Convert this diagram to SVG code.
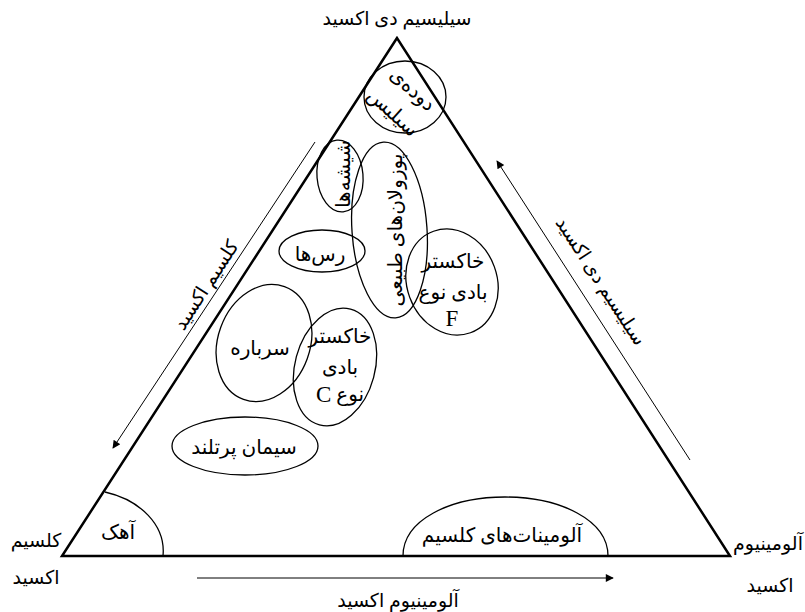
<svg xmlns="http://www.w3.org/2000/svg" width="805" height="612" viewBox="0 0 805 612">
<style>
text{font-family:"Liberation Serif","DejaVu Sans",serif;font-size:19px;fill:#000;text-anchor:middle;dominant-baseline:central;direction:rtl}
.in{font-size:20px}
.lat{font-size:23px}
.shape{fill:none;stroke:#000;stroke-width:1.3}
.tri{fill:none;stroke:#000;stroke-width:2.5;stroke-linejoin:miter}
.arr{fill:none;stroke:#000;stroke-width:1}
</style>
<defs>
<marker id="ah" viewBox="0 0 10 10" refX="9" refY="5" markerWidth="10" markerHeight="8" markerUnits="userSpaceOnUse" orient="auto">
<path d="M0,0 L10,5 L0,10 Z" fill="#000"/>
</marker>
</defs>
<rect width="805" height="612" fill="#fff"/>
<g id="triangle">
<polygon class="tri" points="397,38 62,556 730,556"/>
</g>
<g id="connectors">
<line class="arr" x1="315" y1="142" x2="113" y2="448" marker-end="url(#ah)"/>
<line class="arr" x1="690" y1="460" x2="497" y2="161" marker-end="url(#ah)"/>
<line class="arr" x1="197" y1="578" x2="613" y2="578" marker-end="url(#ah)"/>
</g>
<g id="axis-labels">
<text x="397" y="18">سیلیسیم دی اکسید</text>
<text x="36" y="540">کلسیم</text>
<text x="36" y="577">اکسید</text>
<text x="768" y="543">آلومینیوم</text>
<text x="770" y="585">اکسید</text>
<text x="398" y="600">آلومینیوم اکسید</text>
<text transform="translate(206,285) rotate(-57)">کلسیم اکسید</text>
<text transform="translate(601,281) rotate(57)">سیلیسیم دی اکسید</text>
</g>
<g id="silica-fume">
<ellipse class="shape" cx="405" cy="97" rx="41" ry="36"/>
<text class="in" transform="translate(413,89) rotate(42)">دوده‌ی</text>
<text class="in" transform="translate(393,112) rotate(42)">سیلیس</text>
</g>
<g id="glasses">
<ellipse class="shape" cx="340" cy="176" rx="23" ry="36" transform="rotate(-5 340 176)"/>
<text class="in" transform="translate(343,174) rotate(-90)">شیشه‌ها</text>
</g>
<g id="natural-pozzolans">
<ellipse class="shape" cx="389.5" cy="230" rx="37.5" ry="88" transform="rotate(-4 389.5 230)"/>
<text class="in" transform="translate(395,230) rotate(-90)">پوزولان‌های طبیعی</text>
</g>
<g id="clays">
<ellipse class="shape" cx="322" cy="251" rx="43" ry="21"/>
<text class="in" x="320" y="254">رس‌ها</text>
</g>
<g id="fly-ash-f">
<ellipse class="shape" cx="452" cy="282" rx="45" ry="54" transform="rotate(-20 452 282)"/>
<text class="in" x="453" y="261">خاکستر</text>
<text class="in" x="453" y="292">بادی نوع</text>
<text class="lat" x="452" y="318">F</text>
</g>
<g id="slag">
<ellipse class="shape" cx="264" cy="343" rx="46" ry="60" transform="rotate(20 264 343)"/>
<text class="in" x="260" y="348">سرباره</text>
</g>
<g id="fly-ash-c">
<ellipse class="shape" cx="335" cy="367" rx="40" ry="60" transform="rotate(15 335 367)"/>
<text class="in" x="340" y="336">خاکستر</text>
<text class="in" x="340" y="367">بادی</text>
<text class="in" x="340" y="394">نوع <tspan class="lat">C</tspan></text>
</g>
<g id="portland-cement">
<ellipse class="shape" cx="245" cy="446" rx="73" ry="29"/>
<text class="in" x="244" y="447">سیمان پرتلند</text>
</g>
<g id="lime">
<path class="shape" d="M105,492 C140,500 166,525 163,556"/>
<text class="in" x="118" y="532">آهک</text>
</g>
<g id="calcium-aluminates">
<path class="shape" d="M403,556 C403,520 450,497 505,497 C560,497 608,520 608,556"/>
<text class="in" x="502" y="535">آلومینات‌های کلسیم</text>
</g>
</svg>
